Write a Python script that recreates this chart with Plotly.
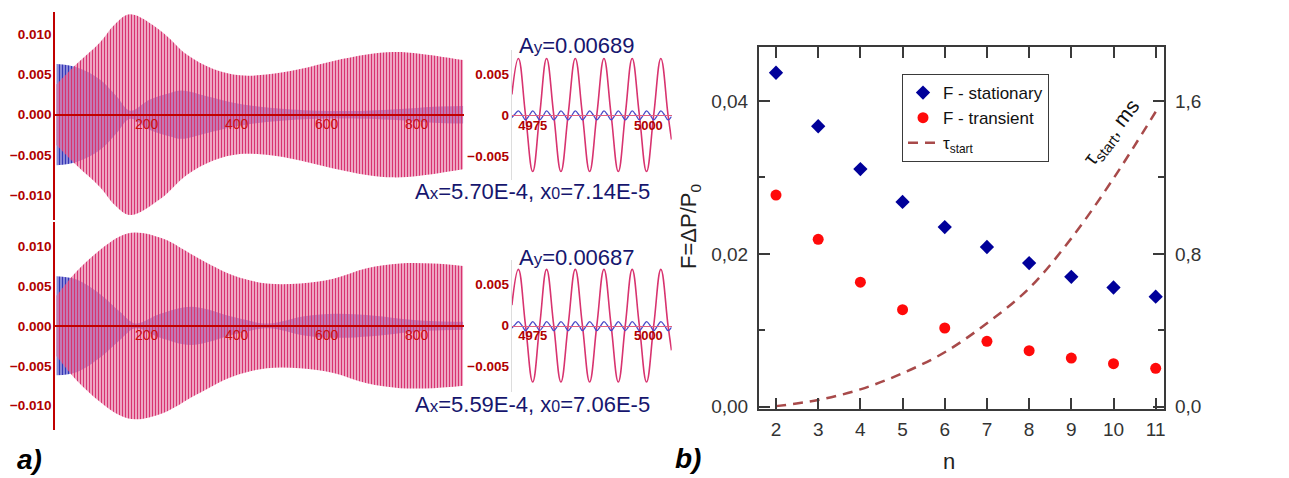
import plotly.graph_objects as go

W, H = 1289, 478


def px(x):
    return x / W


def py(y):
    return 1 - y / H


# ---------------- panel a) data (read from picture) ----------------
# envelopes of the dense oscillations (amplitude vs time)
pink_t_top = [0, 44, 96, 130, 163, 230, 289, 348, 407, 466, 541, 615, 689, 748, 807, 903]
pink_amp_top = [0.0038, 0.0063, 0.0090, 0.0113, 0.0125, 0.0105, 0.0075, 0.0057, 0.0049,
                0.0050, 0.0057, 0.0067, 0.0075, 0.0078, 0.0076, 0.0068]
blue_t_top = [0, 44, 96, 133, 163, 207, 252, 278, 333, 393, 467, 578, 689, 763, 837, 903]
blue_amp_top = [0.0063, 0.0059, 0.0044, 0.0023, 0.0005, 0.0019, 0.0027, 0.0030, 0.0023,
                0.0015, 0.0009, 0.0005, 0.0005, 0.0007, 0.0010, 0.0011]

pink_t_bot = [0, 44, 96, 140, 175, 237, 311, 393, 467, 541, 615, 689, 763, 837, 903]
pink_amp_bot = [0.0038, 0.0068, 0.0095, 0.0112, 0.0117, 0.0109, 0.0086, 0.0063, 0.0053,
                0.0053, 0.0059, 0.0072, 0.0078, 0.0078, 0.0075]
blue_t_bot = [0, 44, 96, 140, 175, 230, 300, 400, 470, 550, 620, 700, 800, 903]
blue_amp_bot = [0.0062, 0.0058, 0.0040, 0.0018, 0.0003, 0.0015, 0.0024, 0.0010, 0.0003,
                0.0012, 0.0015, 0.0013, 0.0007, 0.0005]

# inset (steady state) samples
ins_pink_t = [4970.5, 4971.9, 4973.45, 4975.0, 4976.5, 4978.0, 4979.55, 4981.1, 4982.65,
              4984.2, 4985.75, 4987.3, 4988.85, 4990.4, 4991.95, 4993.5, 4995.0, 4996.5,
              4998.05, 4999.6, 5001.15, 5002.7, 5004.25, 5005.0]
ins_pink_top = [0.0025, 0.0069, 0.0, -0.0069, 0.0, 0.0069, 0.0, -0.0069, 0.0, 0.0069, 0.0,
                -0.0069, 0.0, 0.0069, 0.0, -0.0069, 0.0, 0.0069, 0.0, -0.0069, 0.0, 0.0069,
                0.0, -0.0030]
ins_pink_bot = [0.0025, 0.00687, 0.0, -0.00687, 0.0, 0.00687, 0.0, -0.00687, 0.0, 0.00687,
                0.0, -0.00687, 0.0, 0.00687, 0.0, -0.00687, 0.0, 0.00687, 0.0, -0.00687, 0.0,
                0.00687, 0.0, -0.0030]
ins_blue_t = [4970.5, 4971.15, 4971.9, 4972.7, 4973.45, 4974.2, 4975.0, 4975.75, 4976.5,
              4977.25, 4978.0, 4978.8, 4979.55, 4980.3, 4981.1, 4981.9, 4982.65, 4983.4,
              4984.2, 4985.0, 4985.75, 4986.5, 4987.3, 4988.1, 4988.85, 4989.6, 4990.4,
              4991.2, 4991.95, 4992.7, 4993.5, 4994.25, 4995.0, 4995.75, 4996.5, 4997.3,
              4998.05, 4998.8, 4999.6, 5000.4, 5001.15, 5001.9, 5002.7, 5003.5, 5004.25,
              5005.0]
ins_blue_v = [-0.0003, 0.0001, 0.0005, 0.0000, -0.0006, -0.0001, 0.0005, 0.0000, -0.0006,
              -0.0001, 0.0005, 0.0000, -0.0006, -0.0001, 0.0005, 0.0000, -0.0006, -0.0001,
              0.0005, 0.0000, -0.0006, -0.0001, 0.0005, 0.0000, -0.0006, -0.0001, 0.0005,
              0.0000, -0.0006, -0.0001, 0.0005, 0.0000, -0.0006, -0.0001, 0.0005, 0.0000,
              -0.0006, -0.0001, 0.0005, 0.0000, -0.0006, -0.0001, 0.0005, 0.0000, -0.0006,
              -0.0002]

main_xticks = [200, 400, 600, 800]
main_yticks = [-0.010, -0.005, 0.0, 0.005, 0.010]
ins_xticks = [4975, 5000]
ins_yticks = [-0.005, 0, 0.005]
ins_yticktext = ["\u22120.005", "0", "0.005"]

labels_top = ["A<span style='font-size:17px'>y</span>=0.00689",
              "A<span style='font-size:17px'>x</span>=5.70E-4, x<span style='font-size:16px'>0</span>=7.14E-5"]
labels_bot = ["A<span style='font-size:17px'>y</span>=0.00687",
              "A<span style='font-size:17px'>x</span>=5.59E-4, x<span style='font-size:16px'>0</span>=7.06E-5"]

# ---------------- panel b) data ----------------
n_vals = [2, 3, 4, 5, 6, 7, 8, 9, 10, 11]
F_stationary = [0.0437, 0.0367, 0.0311, 0.0268, 0.0235, 0.0209, 0.0188, 0.0170, 0.0156, 0.0144]
F_transient = [0.0277, 0.0219, 0.0163, 0.0127, 0.0103, 0.00856, 0.00733, 0.00637, 0.00563, 0.00502]
tau_start = [0.003, 0.035, 0.091, 0.175, 0.285, 0.437, 0.620, 0.881, 1.195, 1.544]
left_ticks = [0.0, 0.02, 0.04]
left_ticktext = ["0,00", "0,02", "0,04"]
right_ticks = [0.0, 0.8, 1.6]
right_ticktext = ["0,0", "0,8", "1,6"]

# ---------------- styles ----------------
PINK = "#d8336f"
PINK_BG = "rgba(236,150,185,0.50)"
BLUE = "#3434b4"
BLUE_BG = "rgba(90,90,205,0.55)"
RED = "#c00000"
NAVY = "#16166e"
SANS = "Liberation Sans, Arial, sans-serif"
NARROW = "Liberation Sans Narrow, Liberation Sans, Arial, sans-serif"
FRAME = "#3a3a3a"

fig = go.Figure()


def add_band(t, amp, xa, ya, fg, bg):
    fig.add_trace(go.Scatter(x=t, y=[-a for a in amp], mode="lines", line=dict(width=0, shape="spline"),
                             xaxis=xa, yaxis=ya, showlegend=False, hoverinfo="skip"))
    fig.add_trace(go.Scatter(x=t, y=amp, mode="lines", line=dict(width=0, shape="spline"),
                             fill="tonexty", fillcolor=bg,
                             fillpattern=dict(shape="|", size=3, solidity=0.5, fgcolor=fg, bgcolor=bg,
                                              fillmode="replace"),
                             xaxis=xa, yaxis=ya, showlegend=False, hoverinfo="skip"))


add_band(blue_t_top, blue_amp_top, "x", "y", BLUE, BLUE_BG)
add_band(pink_t_top, pink_amp_top, "x", "y", PINK, PINK_BG)
add_band(blue_t_bot, blue_amp_bot, "x3", "y3", BLUE, BLUE_BG)
add_band(pink_t_bot, pink_amp_bot, "x3", "y3", PINK, PINK_BG)

for xa, ya, pv in (("x2", "y2", ins_pink_top), ("x4", "y4", ins_pink_bot)):
    fig.add_trace(go.Scatter(x=ins_pink_t, y=pv, mode="lines",
                             line=dict(color=PINK, width=1.6, shape="spline", smoothing=1.2),
                             xaxis=xa, yaxis=ya, showlegend=False, hoverinfo="skip"))
    fig.add_trace(go.Scatter(x=ins_blue_t, y=ins_blue_v, mode="lines",
                             line=dict(color="#4a4ac8", width=1.3, shape="spline", smoothing=1.0),
                             xaxis=xa, yaxis=ya, showlegend=False, hoverinfo="skip"))

# panel b traces
fig.add_trace(go.Scatter(x=n_vals, y=F_stationary, mode="markers", name="F - stationary",
                         marker=dict(symbol="diamond", size=11, color="#00009a"),
                         xaxis="x5", yaxis="y5"))
fig.add_trace(go.Scatter(x=n_vals, y=F_transient, mode="markers", name="F - transient",
                         marker=dict(symbol="circle", size=11, color="#ff0a0a"),
                         xaxis="x5", yaxis="y5"))
fig.add_trace(go.Scatter(x=n_vals, y=tau_start, mode="lines", name="\u03c4<sub>start</sub>",
                         line=dict(color="#a84a4a", width=2.5, dash="10px,7px", shape="spline"),
                         xaxis="x5", yaxis="y6"))

main_x = dict(showline=True, linecolor=RED, linewidth=1.5, ticks="", tickvals=main_xticks,
              tickfont=dict(family=SANS, size=14, color="#cc1010"), showgrid=False, zeroline=False,
              anchor="free", layer="above traces", ticklabelstandoff=-3, automargin=False)
main_y = dict(showline=True, linecolor=RED, linewidth=1.5, ticks="", tickvals=main_yticks,
              tickformat=".3f", tickfont=dict(family=SANS, size=13.5, color="#b00000", weight="bold"),
              showgrid=False, zeroline=False, ticklabelstandoff=-1, automargin=False)
ins_x = dict(showline=True, linecolor="#e0607f", linewidth=1, ticks="", tickvals=ins_xticks,
             tickfont=dict(family=SANS, size=13, color="#b00000", weight="bold"), showgrid=False,
             zeroline=False, anchor="free", layer="above traces", ticklabelstandoff=-2, automargin=False)
ins_y = dict(showline=True, linecolor="#dddddd", linewidth=1, ticks="", tickvals=ins_yticks,
             ticktext=ins_yticktext, tickfont=dict(family=SANS, size=13.5, color="#b00000", weight="bold"),
             showgrid=False, zeroline=False, ticklabelstandoff=-1, automargin=False)

fig.update_layout(
    width=W, height=H, autosize=False,
    margin=dict(l=0, r=0, t=0, b=0, pad=0, autoexpand=False),
    paper_bgcolor="white", plot_bgcolor="rgba(0,0,0,0)",
    xaxis=dict(main_x, domain=[px(55), px(464)], range=[-3.8, 905.1], position=py(114.7)),
    yaxis=dict(main_y, domain=[py(220), py(12)], range=[-0.01311, 0.01279], anchor="x"),
    xaxis2=dict(ins_x, domain=[px(511.7), px(671.7)], range=[4970.46, 5005.04], position=py(115)),
    yaxis2=dict(ins_y, domain=[py(180), py(50)], range=[-0.00793, 0.00793], anchor="x2"),
    xaxis3=dict(main_x, domain=[px(55), px(464)], range=[-3.8, 905.1], position=py(325.85)),
    yaxis3=dict(main_y, domain=[py(430), py(222)], range=[-0.01304, 0.0130], anchor="x3"),
    xaxis4=dict(ins_x, domain=[px(511.7), px(671.7)], range=[4970.46, 5005.04], position=py(325.7)),
    yaxis4=dict(ins_y, domain=[py(392), py(260)], range=[-0.00809, 0.00801], anchor="x4"),
    xaxis5=dict(domain=[px(759), px(1164)], range=[1.597, 11.197], anchor="y5",
                showline=True, mirror="ticks", linecolor=FRAME, linewidth=2,
                ticks="inside", ticklen=11, tickwidth=2, tickcolor=FRAME,
                tickvals=n_vals, tickfont=dict(family=NARROW, size=19, color="#333333"),
                showgrid=False, zeroline=False, ticklabelstandoff=2, automargin=False),
    yaxis5=dict(domain=[py(409), py(47)], range=[-0.0003, 0.04707], anchor="x5",
                showline=True, mirror=True, linecolor=FRAME, linewidth=2,
                ticks="inside", ticklen=11, tickwidth=2, tickcolor=FRAME,
                tickvals=left_ticks, ticktext=left_ticktext,
                minor=dict(ticks="inside", ticklen=6, tickwidth=2, tickcolor=FRAME, tickvals=[0.01, 0.03]),
                tickfont=dict(family=NARROW, size=19, color="#333333"),
                showgrid=False, zeroline=False, ticklabelstandoff=5, automargin=False),
    yaxis6=dict(overlaying="y5", side="right", anchor="x5", range=[-0.012, 1.8828],
                showline=False, ticks="inside", ticklen=11, tickwidth=2, tickcolor=FRAME,
                tickvals=right_ticks, ticktext=right_ticktext,
                minor=dict(ticks="inside", ticklen=6, tickwidth=2, tickcolor=FRAME, tickvals=[0.4, 1.2]),
                tickfont=dict(family=NARROW, size=19, color="#333333"),
                showgrid=False, zeroline=False, ticklabelstandoff=10, automargin=False),
    legend=dict(x=px(902), y=py(74), xanchor="left", yanchor="top", traceorder="normal",
                bordercolor=FRAME, borderwidth=1, bgcolor="white",
                font=dict(family=NARROW, size=17, color="#111111"), tracegroupgap=0),
    showlegend=True,
)


def ann(x, y, text, size, color="black", angle=0, xanchor="center", bold=False, italic=False, family=SANS):
    fig.add_annotation(x=px(x), y=py(y), xref="paper", yref="paper", text=text, showarrow=False,
                       textangle=angle, xanchor=xanchor, yanchor="middle",
                       font=dict(family=family, size=size, color=color,
                                 weight="bold" if bold else "normal",
                                 style="italic" if italic else "normal"))


ann(577, 45, labels_top[0], 22, NAVY)
ann(532, 192, labels_top[1], 22, NAVY)
ann(577, 257, labels_bot[0], 22, NAVY)
ann(532, 404, labels_bot[1], 22, NAVY)
ann(29, 459, "a)", 28, "black", bold=True, italic=True)
ann(688, 458, "b)", 28, "black", bold=True, italic=True)
ann(949, 461, "n", 22, "#222222", family=NARROW)
ann(690, 227, "F=\u0394P/P<sub>0</sub>", 22, "#222222", angle=-90, family=NARROW)
ann(1112, 133, "\u03c4<sub>start</sub>, ms", 21, "#111111", angle=-52, family=NARROW)

fig.write_html("out.html", config={"displayModeBar": False},
               post_script="document.body.style.margin='0';document.body.style.padding='0';")
